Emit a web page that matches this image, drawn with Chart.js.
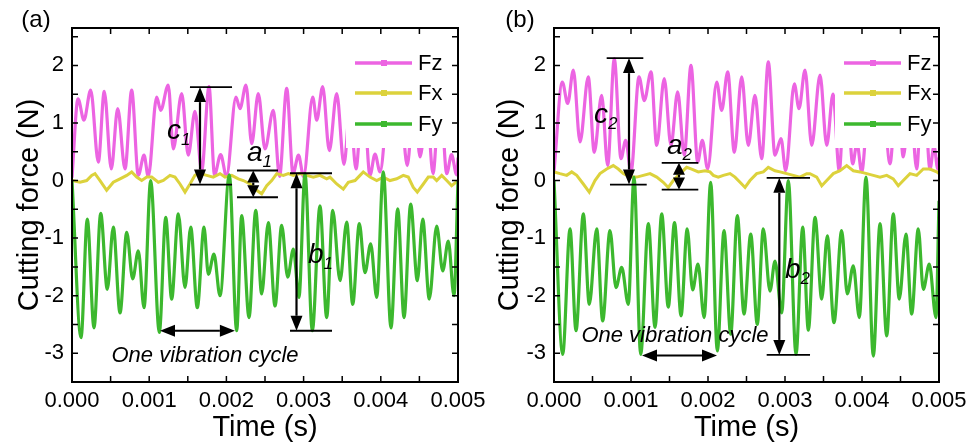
<!DOCTYPE html>
<html>
<head>
<meta charset="utf-8">
<script src="https://cdn.jsdelivr.net/npm/chart.js@4.4.0/dist/chart.umd.min.js"></script>
<style>
  body { margin: 0; background: #fff; }
  canvas { position: absolute; top: 0; }
</style>
</head>
<body>
<canvas id="chartA" width="500" height="445" style="left:0"></canvas>
<canvas id="chartB" width="491" height="445" style="left:480px"></canvas>
<script>
// tick labels and tick marks
const timeTicks = [0, 0.001, 0.002, 0.003, 0.004, 0.005];
const forceTicks = [-3, -2, -1, 0, 1, 2];
const timeMarks = [0.0005, 0.001, 0.0015, 0.002, 0.0025, 0.003, 0.0035, 0.004, 0.0045];
const forceMarks = [-3.5, -3, -2.5, -2, -1.5, -1, -0.5, 0, 0.5, 1, 1.5, 2, 2.5];

// panel (a): [time (s), force (N)]
const fzA = [
  [0, 0.05], [0.000078, 1.42], [0.000155, 1.05], [0.000242, 1.57], [0.000341, 0.32],
  [0.000418, 1.55], [0.000509, 0.20], [0.000592, 1.25], [0.000687, 0.20], [0.000773, 1.57],
  [0.000859, 0.09], [0.000933, 0.44], [0.000988, 0.07], [0.001097, 1.45], [0.001149, 1.22],
  [0.001247, 1.66], [0.001312, 0.55], [0.001421, 1.51], [0.001506, 0.44], [0.001593, 1.20],
  [0.001680, 0.17], [0.001775, 1.63], [0.001846, 0.10], [0.001926, 0.45], [0.002001, 0.07],
  [0.002124, 1.45], [0.002176, 1.25], [0.002254, 1.66], [0.002328, 0.64], [0.002413, 1.51],
  [0.002500, 0.55], [0.002608, 1.22], [0.002688, 0.07], [0.002781, 1.60], [0.002863, 0.12],
  [0.002934, 0.44], [0.002999, 0.07], [0.003118, 1.45], [0.003170, 1.05], [0.003247, 1.63],
  [0.003333, 0.52], [0.003429, 1.51], [0.003523, 0.28], [0.003601, 1.25], [0.003679, 0.20],
  [0.003769, 1.60], [0.003860, 0.09], [0.003925, 0.46], [0.003990, 0.15], [0.004109, 1.45],
  [0.004161, 1.08], [0.004238, 1.60], [0.004343, 0.26], [0.004430, 1.50], [0.004508, 0.41],
  [0.004598, 1.25], [0.004676, 0.12], [0.004767, 1.60], [0.004854, 0.12], [0.004916, 0.45],
  [0.004983, 0.10], [0.005000, 0.40]
];
const fxA = [
  [0, 0.00], [0.000104, -0.03], [0.000190, 0.00], [0.000255, 0.09], [0.000298, 0.12],
  [0.000363, 0.00], [0.000449, -0.17], [0.000535, -0.03], [0.000622, 0.03], [0.000709, 0.09],
  [0.000773, 0.15], [0.000838, 0.06], [0.000903, 0.00], [0.000968, 0.06], [0.001032, 0.06],
  [0.001118, -0.03], [0.001183, 0.00], [0.001269, 0.09], [0.001334, 0.06], [0.001399, -0.06],
  [0.001464, -0.20], [0.001528, -0.06], [0.001593, 0.09], [0.001658, 0.12], [0.001745, 0.09],
  [0.001830, 0.06], [0.001917, 0.12], [0.001982, 0.06], [0.002069, 0.09], [0.002154, 0.03],
  [0.002219, 0.00], [0.002306, -0.06], [0.002392, -0.17], [0.002457, -0.23], [0.002522, -0.09],
  [0.002587, 0.00], [0.002652, 0.12], [0.002737, 0.09], [0.002802, 0.12], [0.002867, 0.09],
  [0.002953, 0.12], [0.003040, 0.09], [0.003126, 0.06], [0.003212, 0.09], [0.003299, 0.03],
  [0.003342, 0.06], [0.003429, -0.06], [0.003514, -0.15], [0.003579, -0.03], [0.003666, 0.00],
  [0.003731, 0.09], [0.003773, 0.15], [0.003860, 0.06], [0.003947, 0.00], [0.004032, 0.06],
  [0.004119, 0.00], [0.004206, 0.03], [0.004291, 0.09], [0.004356, 0.06], [0.004421, -0.12],
  [0.004473, -0.20], [0.004551, -0.06], [0.004615, 0.06], [0.004680, 0.06], [0.004724, 0.00],
  [0.004789, 0.09], [0.004854, 0.00], [0.004918, -0.09], [0.005000, 0.00]
];
const fyA = [
  [0, 0.00], [0.000117, -2.73], [0.000198, -0.67], [0.000285, -2.56], [0.000372, -0.57],
  [0.000457, -1.89], [0.000535, -0.81], [0.000622, -2.30], [0.000709, -0.90], [0.000786, -1.71],
  [0.000859, -1.22], [0.000933, -2.21], [0.001019, 0.00], [0.001131, -2.64], [0.001214, -0.64],
  [0.001291, -2.06], [0.001377, -0.58], [0.001464, -1.86], [0.001538, -0.81], [0.001623, -2.21],
  [0.001710, -0.81], [0.001766, -1.63], [0.001839, -1.28], [0.001917, -2.00], [0.002038, 0.10],
  [0.002133, -2.61], [0.002198, -0.61], [0.002293, -2.38], [0.002380, -0.52], [0.002457, -1.97],
  [0.002543, -0.73], [0.002630, -2.18], [0.002716, -0.78], [0.002794, -1.68], [0.002867, -1.19],
  [0.002940, -2.03], [0.003018, 0.12], [0.003113, -2.61], [0.003212, -0.44], [0.003299, -2.38],
  [0.003377, -0.52], [0.003472, -1.74], [0.003558, -0.72], [0.003636, -2.15], [0.003722, -0.75],
  [0.003795, -1.60], [0.003869, -1.10], [0.003947, -2.03], [0.004032, 0.15], [0.004132, -2.56],
  [0.004219, -0.49], [0.004301, -2.38], [0.004387, -0.41], [0.004473, -1.74], [0.004543, -0.67],
  [0.004628, -2.06], [0.004724, -0.79], [0.004802, -1.57], [0.004874, -1.05], [0.004948, -2.00],
  [0.005000, 0.00]
];

// panel (b): [time (s), force (N)]
const fzB = [
  [0, 0.15], [0.000108, 1.71], [0.000178, 1.34], [0.000251, 1.92], [0.000338, 0.67],
  [0.000445, 1.80], [0.000523, 0.49], [0.000619, 1.48], [0.000697, 0.26], [0.000783, 2.12],
  [0.000870, 0.38], [0.000931, 0.70], [0.001000, 0.15], [0.001104, 1.80], [0.001173, 1.39],
  [0.001260, 1.89], [0.001334, 0.61], [0.001432, 1.77], [0.001519, 0.61], [0.001606, 1.54],
  [0.001692, 0.44], [0.001779, 2.00], [0.001866, 0.32], [0.001926, 0.70], [0.001996, 0.20],
  [0.002113, 1.71], [0.002178, 1.22], [0.002256, 1.89], [0.002342, 0.49], [0.002438, 1.80],
  [0.002523, 0.61], [0.002610, 1.48], [0.002697, 0.38], [0.002783, 2.06], [0.002870, 0.44],
  [0.002948, 0.73], [0.003009, 0.17], [0.003121, 1.68], [0.003182, 1.25], [0.003260, 1.92],
  [0.003347, 0.61], [0.003455, 1.83], [0.003542, 0.61], [0.003623, 1.50], [0.003705, 0.17],
  [0.003786, 2.00], [0.003879, 0.29], [0.003935, 0.65], [0.003996, 0.15], [0.004104, 1.70],
  [0.004169, 1.30], [0.004247, 1.90], [0.004364, 0.29], [0.004455, 1.80], [0.004536, 0.41],
  [0.004623, 1.50], [0.004710, 0.20], [0.004792, 2.00], [0.004883, 0.20], [0.004935, 0.60],
  [0.004985, 0.20], [0.005000, 0.40]
];
const fxB = [
  [0, 0.15], [0.000078, 0.12], [0.000165, 0.09], [0.000230, 0.15], [0.000295, 0.09],
  [0.000381, -0.06], [0.000458, -0.20], [0.000532, 0.00], [0.000597, 0.12], [0.000684, 0.20],
  [0.000770, 0.26], [0.000835, 0.20], [0.000900, 0.12], [0.000987, 0.06], [0.001074, 0.06],
  [0.001160, 0.09], [0.001247, 0.12], [0.001334, 0.06], [0.001419, -0.03], [0.001484, -0.12],
  [0.001549, 0.00], [0.001636, 0.12], [0.001723, 0.23], [0.001788, 0.20], [0.001874, 0.15],
  [0.001961, 0.17], [0.002026, 0.15], [0.002069, 0.09], [0.002134, 0.06], [0.002199, 0.09],
  [0.002286, 0.12], [0.002351, 0.06], [0.002416, -0.03], [0.002481, -0.12], [0.002545, 0.00],
  [0.002632, 0.12], [0.002718, 0.15], [0.002783, 0.23], [0.002870, 0.17], [0.002935, 0.15],
  [0.003022, 0.12], [0.003108, 0.09], [0.003195, 0.06], [0.003282, 0.12], [0.003325, 0.12],
  [0.003412, 0.06], [0.003477, -0.09], [0.003542, 0.00], [0.003627, 0.12], [0.003714, 0.17],
  [0.003801, 0.26], [0.003887, 0.17], [0.003974, 0.15], [0.004061, 0.12], [0.004147, 0.09],
  [0.004234, 0.06], [0.004321, 0.09], [0.004406, 0.03], [0.004471, -0.09], [0.004536, 0.00],
  [0.004623, 0.12], [0.004710, 0.09], [0.004796, 0.20], [0.004883, 0.20], [0.004970, 0.15],
  [0.005000, 0.12]
];
const fyB = [
  [0, 0.00], [0.000113, -3.02], [0.000208, -0.84], [0.000286, -2.61], [0.000381, -0.58],
  [0.000458, -2.15], [0.000555, -0.84], [0.000632, -2.44], [0.000727, -0.87], [0.000805, -1.86],
  [0.000879, -1.51], [0.000965, -2.15], [0.001039, 0.06], [0.001126, -3.02], [0.001225, -0.75],
  [0.001312, -2.55], [0.001399, -0.58], [0.001484, -2.20], [0.001565, -0.73], [0.001650, -2.35],
  [0.001730, -0.84], [0.001800, -1.90], [0.001870, -1.45], [0.001950, -2.38], [0.002035, -0.03],
  [0.002121, -2.96], [0.002208, -0.87], [0.002295, -2.67], [0.002381, -0.61], [0.002468, -2.32],
  [0.002555, -0.93], [0.002640, -2.50], [0.002718, -0.84], [0.002805, -1.92], [0.002870, -1.40],
  [0.002957, -2.30], [0.003043, 0.00], [0.003143, -3.02], [0.003230, -0.81], [0.003303, -2.60],
  [0.003390, -0.64], [0.003477, -2.06], [0.003549, -0.96], [0.003636, -2.47], [0.003736, -0.87],
  [0.003809, -1.97], [0.003887, -1.48], [0.003965, -2.38], [0.004052, 0.06], [0.004147, -3.05],
  [0.004234, -0.75], [0.004321, -2.70], [0.004406, -0.58], [0.004484, -2.06], [0.004571, -0.93],
  [0.004645, -2.32], [0.004731, -0.84], [0.004796, -1.89], [0.004874, -1.45], [0.004961, -2.38],
  [0.005000, -0.35]
];

// arrows, bars and labels drawn on top, in data coordinates
const notes = {
  chartA: {
    vArrows: [[0.001658, 1.623, -0.07], [0.002348, 0.174, -0.29], [0.002908, 0.127, -2.61]],
    hArrows: [[0.00114, 0.00211, -2.61]],
    bars: [[0.001528, 0.002073, 1.623], [0.001528, 0.002073, -0.07],
           [0.002137, 0.002668, 0.174], [0.002137, 0.002668, -0.29],
           [0.002824, 0.003368, 0.127], [0.002824, 0.003368, -2.61]],
    marks: [['c', '1', 0.001231, 0.852], ['a', '1', 0.002267, 0.47], ['b', '1', 0.003057, -1.304]],
    caption: ['One vibration cycle', 0.001723, -3.043]
  },
  chartB: {
    vArrows: [[0.000974, 2.127, -0.07], [0.001623, 0.308, -0.157], [0.002926, 0.047, -3.03]],
    hArrows: [[0.001143, 0.002117, -3.04]],
    bars: [[0.000684, 0.00116, 2.127], [0.000727, 0.001204, -0.07],
           [0.001399, 0.001874, 0.308], [0.001399, 0.001874, -0.157],
           [0.002762, 0.003325, 0.047], [0.002762, 0.003325, -3.03]],
    marks: [['c', '2', 0.000519, 1.13], ['a', '2', 0.001468, 0.591], ['b', '2', 0.003, -1.565]],
    caption: ['One vibration cycle', 0.001571, -2.696]
  }
};

const FONT = '"Liberation Sans", Arial, sans-serif';
const pink = '#ec64e2';
const yellow = '#dcd23c';
const green = '#3cb82e';

// white legend box with line samples (it hides the Fz peaks under it)
const legendBox = {
  id: 'legendBox',
  afterDatasetsDraw(chart) {
    const { ctx, chartArea: a } = chart;
    const left = chart.canvas.id === 'chartA' ? 346 : 355;
    const lineX = left + 9;
    ctx.save();
    ctx.fillStyle = '#fff';
    ctx.fillRect(left, a.top + 1, a.right - left - 1, 147 - a.top);
    const rows = [63, 93, 124];
    chart.data.datasets.forEach((ds, i) => {
      const y = rows[i];
      ctx.strokeStyle = ds.borderColor;
      ctx.lineWidth = 3.5;
      ctx.beginPath();
      ctx.moveTo(lineX, y);
      ctx.lineTo(lineX + 57, y);
      ctx.stroke();
      ctx.fillStyle = ds.borderColor;
      ctx.fillRect(lineX + 26, y - 3, 6, 6);
      ctx.fillStyle = '#000';
      ctx.font = '22px ' + FONT;
      ctx.textBaseline = 'middle';
      ctx.fillText(ds.label, lineX + 63, y + 1);
    });
    ctx.restore();
  }
};

// frame with inward ticks, titles and annotations
const frameAndNotes = {
  id: 'frameAndNotes',
  afterDraw(chart) {
    const { ctx, chartArea: a, scales: { x, y } } = chart;
    const n = notes[chart.canvas.id];
    ctx.save();
    ctx.strokeStyle = '#000';
    ctx.fillStyle = '#000';

    ctx.lineWidth = 1.5;
    ctx.beginPath();
    timeMarks.forEach(v => {
      const px = x.getPixelForValue(v);
      ctx.moveTo(px, a.bottom); ctx.lineTo(px, a.bottom - 6);
      ctx.moveTo(px, a.top); ctx.lineTo(px, a.top + 6);
    });
    forceMarks.forEach(v => {
      const py = y.getPixelForValue(v);
      ctx.moveTo(a.left, py); ctx.lineTo(a.left + 6, py);
      ctx.moveTo(a.right, py); ctx.lineTo(a.right - 6, py);
    });
    ctx.stroke();
    ctx.lineWidth = 2;
    ctx.strokeRect(a.left, a.top, a.width, a.height);

    // axis titles and panel tag
    ctx.textAlign = 'center';
    ctx.textBaseline = 'middle';
    ctx.font = '24px ' + FONT;
    ctx.fillText(chart.canvas.id === 'chartA' ? '(a)' : '(b)', chart.canvas.id === 'chartA' ? 36 : 40, 20);
    ctx.font = '29px ' + FONT;
    ctx.fillText('Time (s)', (a.left + a.right) / 2, 428);
    ctx.save();
    ctx.translate(30, (a.top + a.bottom) / 2);
    ctx.rotate(-Math.PI / 2);
    ctx.fillText('Cutting force (N)', 0, 0);
    ctx.restore();

    // bars
    ctx.lineWidth = 1.8;
    ctx.beginPath();
    n.bars.forEach(b => {
      const py = y.getPixelForValue(b[2]);
      ctx.moveTo(x.getPixelForValue(b[0]), py);
      ctx.lineTo(x.getPixelForValue(b[1]), py);
    });
    ctx.stroke();

    // double arrows
    const head = (tipX, tipY, dx, dy, len) => {
      ctx.beginPath();
      ctx.moveTo(tipX, tipY);
      ctx.lineTo(tipX - dx * len - dy * 6, tipY - dy * len - dx * 6);
      ctx.lineTo(tipX - dx * len + dy * 6, tipY - dy * len + dx * 6);
      ctx.closePath();
      ctx.fill();
    };
    ctx.lineWidth = 2.2;
    n.vArrows.forEach(ar => {
      const px = x.getPixelForValue(ar[0]);
      const top = y.getPixelForValue(ar[1]);
      const bot = y.getPixelForValue(ar[2]);
      const len = Math.min(15, (bot - top) * 0.45);
      ctx.beginPath();
      ctx.moveTo(px, top + len); ctx.lineTo(px, bot - len);
      ctx.stroke();
      head(px, top, 0, -1, len);
      head(px, bot, 0, 1, len);
    });
    n.hArrows.forEach(ar => {
      const l = x.getPixelForValue(ar[0]);
      const r = x.getPixelForValue(ar[1]);
      const py = y.getPixelForValue(ar[2]);
      ctx.beginPath();
      ctx.moveTo(l + 15, py); ctx.lineTo(r - 15, py);
      ctx.stroke();
      head(l, py, -1, 0, 15);
      head(r, py, 1, 0, 15);
    });

    // italic labels with subscripts
    ctx.textAlign = 'left';
    n.marks.forEach(m => {
      const px = x.getPixelForValue(m[2]);
      const py = y.getPixelForValue(m[3]);
      ctx.font = 'italic 28px ' + FONT;
      ctx.fillText(m[0], px, py);
      const w = ctx.measureText(m[0]).width;
      ctx.font = 'italic 17px ' + FONT;
      ctx.fillText(m[1], px + w, py + 9);
    });
    ctx.font = 'italic 22px ' + FONT;
    ctx.textAlign = 'center';
    ctx.fillText(n.caption[0], x.getPixelForValue(n.caption[1]), y.getPixelForValue(n.caption[2]));
    ctx.restore();
  }
};

function series(points) {
  return points.map(p => ({ x: p[0], y: p[1] }));
}

function makePanel(id, fz, fx, fy, leftWidth, rightPad) {
  return new Chart(document.getElementById(id), {
    type: 'line',
    data: {
      datasets: [
        { label: 'Fz', data: series(fz), borderColor: pink, borderWidth: 3.2, pointRadius: 0,
          tension: 0.4, cubicInterpolationMode: 'monotone', order: 2 },
        { label: 'Fx', data: series(fx), borderColor: yellow, borderWidth: 3, pointRadius: 0,
          tension: 0, order: 1 },
        { label: 'Fy', data: series(fy), borderColor: green, borderWidth: 3.2, pointRadius: 0,
          tension: 0.4, cubicInterpolationMode: 'monotone', order: 0 }
      ]
    },
    options: {
      responsive: false,
      devicePixelRatio: 1,
      animation: false,
      layout: { padding: { left: 0, top: 28, right: rightPad, bottom: 0 } },
      plugins: { legend: { display: false }, tooltip: { enabled: false } },
      scales: {
        x: {
          type: 'linear', min: 0, max: 0.005,
          grid: { display: false, drawTicks: false },
          border: { display: false },
          afterBuildTicks: s => { s.ticks = timeTicks.map(v => ({ value: v })); },
          afterFit: s => { s.height = 63; s.paddingLeft = 0; s.paddingRight = 0; },
          ticks: {
            padding: 6, color: '#000', maxRotation: 0, autoSkip: false,
            font: { size: 22, family: FONT },
            callback: v => v.toFixed(3)
          }
        },
        y: {
          min: -3.5, max: 2.65,
          grid: { display: false, drawTicks: false },
          border: { display: false },
          afterBuildTicks: s => { s.ticks = forceTicks.map(v => ({ value: v })); },
          afterFit: s => { s.width = leftWidth; s.paddingTop = 0; s.paddingBottom = 0; },
          ticks: {
            padding: 8, color: '#000',
            font: { size: 22, family: FONT },
            callback: v => String(v)
          }
        }
      }
    },
    plugins: [legendBox, frameAndNotes]
  });
}

makePanel('chartA', fzA, fxA, fyA, 72, 42);
makePanel('chartB', fzB, fxB, fyB, 74, 32);
</script>
</body>
</html>
